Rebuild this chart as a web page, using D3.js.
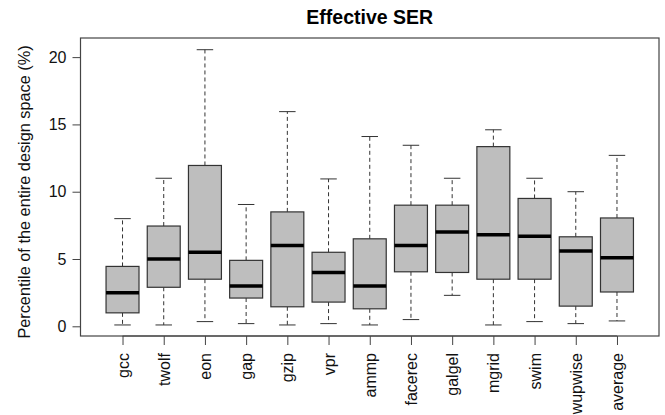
<!DOCTYPE html>
<html>
<head>
<meta charset="utf-8">
<script src="https://cdn.jsdelivr.net/npm/d3@7"></script>
<style>
  body { margin: 0; background: #fff; }
  text { font-family: "Liberation Sans", Arial, Helvetica, sans-serif; }
</style>
</head>
<body>
<script>
// benchmark names along the x axis
var categories = ["gcc", "twolf", "eon", "gap", "gzip", "vpr", "ammp", "facerec", "galgel", "mgrid", "swim", "wupwise", "average"];

// five-number summaries (percent)
var whiskerLow  = [0.1, 0.1, 0.35, 0.2, 0.1, 0.2, 0.1, 0.5, 2.3, 0.1, 0.35, 0.2, 0.4];
var q1          = [1.0, 2.9, 3.5, 2.1, 1.45, 1.8, 1.3, 4.05, 4.0, 3.5, 3.5, 1.5, 2.55];
var medians     = [2.5, 5.0, 5.5, 3.0, 6.0, 4.0, 3.0, 6.0, 7.0, 6.8, 6.7, 5.6, 5.1];
var q3          = [4.45, 7.45, 11.95, 4.9, 8.5, 5.5, 6.5, 9.0, 9.0, 13.35, 9.5, 6.65, 8.05];
var whiskerHigh = [8.0, 11.0, 20.55, 9.05, 15.95, 10.95, 14.1, 13.45, 11.0, 14.6, 11.0, 10.0, 12.7];

var yTicks = [0, 5, 10, 15, 20];

var width = 665, height = 415;
// plot frame edges (note: "top" is taken by window.top)
var plotL = 80.5, plotR = 659, plotT = 38, plotB = 336;

var svg = d3.select("body").append("svg")
    .attr("width", width)
    .attr("height", height);

//-----------------------------------------------------------------------------------
// scales
//-----------------------------------------------------------------------------------
var x = d3.scalePoint()
    .domain(categories)
    .range([plotL, plotR])
    .padding(1.02);

var y = d3.scaleLinear()
    .domain([-0.72, 21.42])
    .range([plotB, plotT]);

var boxW = x.step() * 0.8;
var capW = boxW / 2;

//title
svg.append("text")
    .attr("x", (plotL + plotR) / 2)
    .attr("y", 24)
    .attr("text-anchor", "middle")
    .style("font-size", "19.5px")
    .style("font-weight", "bold")
    .text("Effective SER");

//-----------------------------------------------------------------------------------
// boxes
//-----------------------------------------------------------------------------------
var rows = categories.map(function(c, i){
    return { name: c, lo: whiskerLow[i], q1: q1[i], med: medians[i], q3: q3[i], hi: whiskerHigh[i] };
});

var g = svg.selectAll(".bx").data(rows).enter().append("g").attr("class", "bx");

// dashed whiskers
g.append("line")
    .attr("x1", function(d){ return x(d.name); })
    .attr("x2", function(d){ return x(d.name); })
    .attr("y1", function(d){ return y(d.q3); })
    .attr("y2", function(d){ return y(d.hi); })
    .attr("stroke", "#333").attr("stroke-dasharray", "4,3");
g.append("line")
    .attr("x1", function(d){ return x(d.name); })
    .attr("x2", function(d){ return x(d.name); })
    .attr("y1", function(d){ return y(d.q1); })
    .attr("y2", function(d){ return y(d.lo); })
    .attr("stroke", "#333").attr("stroke-dasharray", "4,3");

// staples
g.append("line")
    .attr("x1", function(d){ return x(d.name) - capW / 2; })
    .attr("x2", function(d){ return x(d.name) + capW / 2; })
    .attr("y1", function(d){ return y(d.hi); })
    .attr("y2", function(d){ return y(d.hi); })
    .attr("stroke", "#333");
g.append("line")
    .attr("x1", function(d){ return x(d.name) - capW / 2; })
    .attr("x2", function(d){ return x(d.name) + capW / 2; })
    .attr("y1", function(d){ return y(d.lo); })
    .attr("y2", function(d){ return y(d.lo); })
    .attr("stroke", "#333");

// box
g.append("rect")
    .attr("x", function(d){ return x(d.name) - boxW / 2; })
    .attr("y", function(d){ return y(d.q3); })
    .attr("width", boxW)
    .attr("height", function(d){ return y(d.q1) - y(d.q3); })
    .attr("fill", "#bebebe")
    .attr("stroke", "#333")
    .attr("stroke-width", 1.2);

// median
g.append("line")
    .attr("x1", function(d){ return x(d.name) - boxW / 2; })
    .attr("x2", function(d){ return x(d.name) + boxW / 2; })
    .attr("y1", function(d){ return y(d.med); })
    .attr("y2", function(d){ return y(d.med); })
    .attr("stroke", "#000")
    .attr("stroke-width", 3.5);

//-----------------------------------------------------------------------------------
// frame and axes
//-----------------------------------------------------------------------------------
svg.append("rect")
    .attr("x", plotL).attr("y", plotT)
    .attr("width", plotR - plotL).attr("height", plotB - plotT)
    .attr("fill", "none").attr("stroke", "#444").attr("stroke-width", 1.2);

var yAxis = svg.append("g")
    .attr("transform", "translate(" + plotL + ",0)")
    .call(d3.axisLeft(y).tickValues(yTicks).tickSize(8).tickSizeOuter(0).tickPadding(6));
yAxis.select(".domain").attr("stroke", "#444")
    .attr("d", "M0," + y(0) + "V" + y(20));
yAxis.selectAll(".tick line").attr("stroke", "#444");
yAxis.selectAll("text").style("font-size", "16px").attr("fill", "#111")
    .style("font-family", '"Liberation Sans", Arial, sans-serif');

var xAxis = svg.append("g")
    .attr("transform", "translate(0," + plotB + ")")
    .call(d3.axisBottom(x).tickSize(9).tickSizeOuter(0));
xAxis.select(".domain").attr("stroke", "#444")
    .attr("d", "M" + x(categories[0]) + ",0H" + x(categories[categories.length - 1]));
xAxis.selectAll(".tick line").attr("stroke", "#444");
xAxis.selectAll("text")
    .style("font-size", "16px").attr("fill", "#111")
    .style("font-family", '"Liberation Sans", Arial, sans-serif')
    .attr("transform", "rotate(-90)")
    .attr("text-anchor", "end")
    .attr("x", -17)
    .attr("y", 0)
    .attr("dy", "0.35em");

// y label
svg.append("text")
    .attr("transform", "translate(30,192) rotate(-90)")
    .attr("text-anchor", "middle")
    .style("font-size", "16.3px")
    .attr("fill", "#111")
    .text("Percentile of the entire design space (%)");
</script>
</body>
</html>
